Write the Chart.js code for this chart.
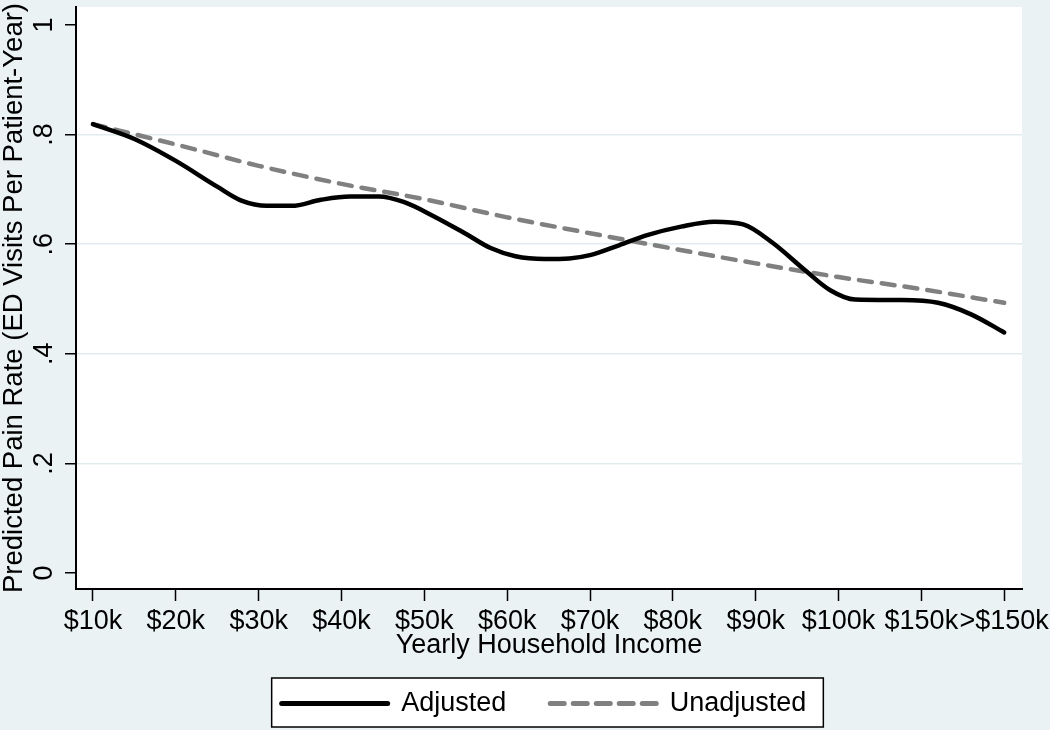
<!DOCTYPE html>
<html>
<head>
<meta charset="utf-8">
<script src="https://cdn.jsdelivr.net/npm/chart.js@4.4.1/dist/chart.umd.min.js"></script>
<style>
  html, body { margin: 0; padding: 0; background: #eaf2f3; }
  #wrap { width: 1050px; height: 730px; position: relative; }
</style>
</head>
<body>
<div id="wrap"><canvas id="c"></canvas></div>
<script>
// ---- data ----
const categories = ['$10k', '$20k', '$30k', '$40k', '$50k', '$60k', '$70k', '$80k', '$90k', '$100k', '$150k', '>$150k'];
const yTickValues = [0, 0.2, 0.4, 0.6, 0.8, 1];
const yTickLabels = ['0', '.2', '.4', '.6', '.8', '1'];

// Adjusted (smooth curve) – positions along the income axis (category index) and values
const adjustedX = [0, 0.5, 1, 1.5, 1.8, 2.1, 2.4, 2.75, 3.1, 3.45, 3.75, 4.1, 4.5, 4.8, 5.1, 5.45, 5.75, 6.0, 6.35, 6.7, 7.1, 7.5, 7.85, 8.2, 8.6, 8.9, 9.2, 9.75, 10.2, 10.6, 11.0];
const adjustedY = [0.819, 0.792, 0.752, 0.705, 0.679, 0.670, 0.670, 0.681, 0.687, 0.687, 0.677, 0.652, 0.619, 0.593, 0.578, 0.573, 0.574, 0.580, 0.598, 0.617, 0.632, 0.641, 0.636, 0.603, 0.552, 0.516, 0.499, 0.498, 0.493, 0.472, 0.439];

// Unadjusted (dashed) – one value per category
const unadjustedX = [0, 1, 2, 3, 4, 5, 6, 7, 8, 9, 10, 11];
const unadjustedY = [0.819, 0.782, 0.743, 0.710, 0.682, 0.649, 0.620, 0.592, 0.565, 0.540, 0.518, 0.493];

const FONT = "'Liberation Sans', Arial, Helvetica, sans-serif";

const bgPlugin = {
  id: 'stataBackground',
  afterUpdate(chart) {
    // nudge the legend slightly left, as in the reference
    const lg = chart.legend;
    if (lg && lg.legendHitBoxes) {
      const d = 5;
      lg.left -= d; lg.right -= d;
      lg.legendHitBoxes.forEach(h => { h.left -= d; });
    }
  },
  beforeDraw(chart) {
    const { ctx, chartArea: a, width, height } = chart;
    ctx.save();
    ctx.fillStyle = '#eaf2f3';
    ctx.fillRect(0, 0, width, height);
    ctx.fillStyle = '#ffffff';
    ctx.fillRect(a.left, a.top, a.right - a.left, a.bottom - a.top);
    const lg = chart.legend;
    if (lg && lg.legendHitBoxes && lg.legendHitBoxes.length) {
      const hb = lg.legendHitBoxes;
      const last = hb[hb.length - 1];
      const l = hb[0].left - 10;
      const t = hb[0].top - 12;
      const r = last.left + last.width + 17;
      const b = hb[0].top + hb[0].height + 10;
      ctx.fillStyle = '#ffffff';
      ctx.fillRect(l, t, r - l, b - t);
      ctx.strokeStyle = '#000';
      ctx.lineWidth = 1.5;
      ctx.strokeRect(l, t, r - l, b - t);
    }
    ctx.restore();
  }
};

new Chart(document.getElementById('c'), {
  type: 'line',
  data: {
    datasets: [
      {
        label: 'Adjusted',
        data: adjustedX.map((x, i) => ({ x, y: adjustedY[i] })),
        borderColor: '#000000',
        backgroundColor: '#000000',
        borderWidth: 4.5,
        borderCapStyle: 'round',
        borderJoinStyle: 'round',
        pointRadius: 0,
        cubicInterpolationMode: 'monotone',
        fill: false
      },
      {
        label: 'Unadjusted',
        data: unadjustedX.map((x, i) => ({ x, y: unadjustedY[i] })),
        borderColor: '#808080',
        backgroundColor: '#808080',
        borderWidth: 4.5,
        borderDash: [13, 10],
        borderCapStyle: 'round',
        borderJoinStyle: 'round',
        pointRadius: 0,
        cubicInterpolationMode: 'monotone',
        fill: false
      }
    ]
  },
  options: {
    responsive: true,
    maintainAspectRatio: false,
    animation: false,
    layout: { padding: { top: 7, right: 28, bottom: 3, left: 0 } },
    plugins: {
      tooltip: { enabled: false },
      legend: {
        display: true,
        position: 'bottom',
        fullSize: false,
        labels: {
          usePointStyle: true,
          pointStyle: 'line',
          pointStyleWidth: 106,
          padding: 44,
          color: '#000',
          font: { family: FONT, size: 27 },
          generateLabels(chart) {
            const items = Chart.defaults.plugins.legend.labels.generateLabels(chart);
            items.forEach(it => {
              const ds = chart.data.datasets[it.datasetIndex];
              it.lineDash = ds.borderDash ? [14, 9] : [];
              it.lineWidth = 5;
              it.lineCap = 'round';
              it.strokeStyle = ds.borderColor;
            });
            return items;
          }
        }
      }
    },
    scales: {
      x: {
        type: 'linear',
        position: 'bottom',
        min: -0.205,
        max: 11.215,
        afterBuildTicks(scale) {
          scale.ticks = categories.map((c, i) => ({ value: i }));
        },
        afterFit(scale) {
          scale.height = 57;
          scale.paddingLeft = 0;
          scale.paddingRight = 0;
        },
        ticks: {
          autoSkip: false,
          maxRotation: 0,
          minRotation: 0,
          padding: 4,
          color: '#000',
          font: { family: FONT, size: 27 },
          callback: (v, i) => categories[i]
        },
        grid: {
          drawOnChartArea: false,
          drawTicks: true,
          tickLength: 12,
          tickColor: '#000',
          tickWidth: 1.5
        },
        border: { display: true, color: '#000', width: 2 },
        title: {
          display: true,
          text: 'Yearly Household Income',
          color: '#000',
          font: { family: FONT, size: 27 },
          padding: { top: 0, bottom: -15.7 }
        }
      },
      y: {
        type: 'linear',
        position: 'left',
        min: -0.0292,
        max: 1.0328,
        afterBuildTicks(scale) {
          scale.ticks = yTickValues.map(v => ({ value: v }));
        },
        afterFit(scale) {
          scale.width = 76;
          scale.paddingTop = 0;
          scale.paddingBottom = 0;
        },
        ticks: {
          minRotation: 90,
          maxRotation: 90,
          crossAlign: 'center',
          padding: 9,
          color: '#000',
          font: { family: FONT, size: 27 },
          callback: (v, i) => yTickLabels[i]
        },
        grid: {
          color: (c) => (c.tick && (c.tick.value === 0 || c.tick.value === 1)) ? 'rgba(0,0,0,0)' : '#e1ebee',
          lineWidth: 1.5,
          drawTicks: true,
          tickLength: 11,
          tickColor: '#000',
          tickWidth: 1.5
        },
        border: { display: true, color: '#000', width: 2 },
        title: {
          display: true,
          text: 'Predicted Pain Rate (ED Visits Per Patient-Year)',
          color: '#000',
          font: { family: FONT, size: 27.5 },
          padding: { top: -2.5, bottom: 0 }
        }
      }
    }
  },
  plugins: [bgPlugin]
});
</script>
</body>
</html>
